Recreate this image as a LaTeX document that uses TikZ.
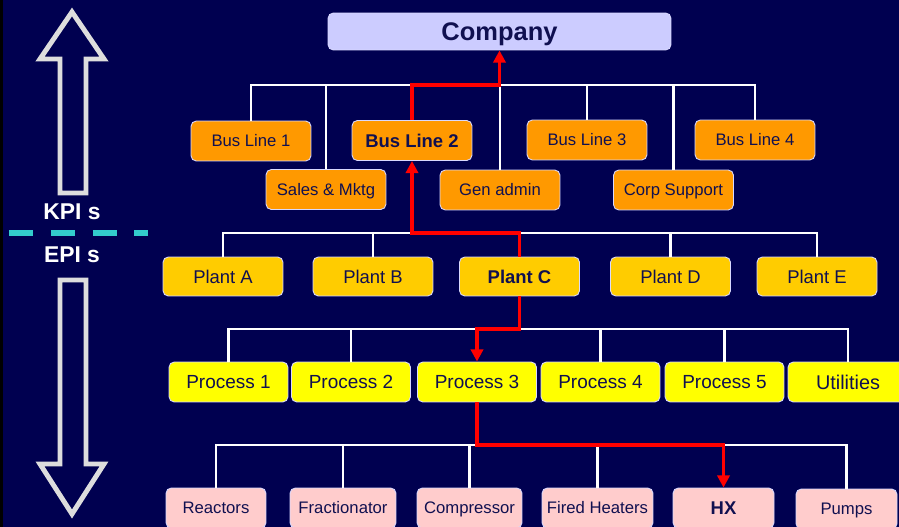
\documentclass[tikz,border=0pt]{standalone}
\usepackage{fontspec}
\setmainfont{Liberation Sans}
\usetikzlibrary{arrows.meta}

\definecolor{bgnavy}{RGB}{0,0,80}
\definecolor{inknavy}{RGB}{16,16,80}
\definecolor{cofill}{RGB}{204,204,255}
\definecolor{busfill}{RGB}{255,153,0}
\definecolor{plantfill}{RGB}{255,204,0}
\definecolor{procfill}{RGB}{255,255,0}
\definecolor{eqfill}{RGB}{255,204,204}
\definecolor{kpicyan}{RGB}{51,204,204}
\definecolor{bigarrow}{RGB}{221,221,221}

\begin{document}
\begin{tikzpicture}[x=0.02cm,y=-0.02cm]

\tikzstyle{box} = [draw=white!85!blue, line width=0.5pt, rounded corners=3pt, inner sep=0pt, text=inknavy, text depth=0pt, anchor=center]
\tikzstyle{cobox} = [box, fill=cofill, minimum width=6.86cm, minimum height=0.74cm, text height=10.4pt, font=\fontsize{14.5}{16}\selectfont\bfseries]
\tikzstyle{busbox} = [box, fill=busfill, minimum width=2.4cm, minimum height=0.8cm, text height=6.8pt, font=\fontsize{9.5}{11}\selectfont]
\tikzstyle{plantbox} = [box, fill=plantfill, minimum width=2.4cm, minimum height=0.78cm, text height=7.5pt, font=\fontsize{10.5}{12}\selectfont]
\tikzstyle{procbox} = [box, fill=procfill, minimum width=2.38cm, minimum height=0.8cm, text height=7.7pt, font=\fontsize{10.8}{12}\selectfont]
\tikzstyle{eqbox} = [box, fill=eqfill, minimum height=0.8cm, text height=6.8pt, font=\fontsize{9.5}{11}\selectfont]
\tikzstyle{link} = [draw=white, line width=1.4pt]
\tikzstyle{route} = [draw=red, line width=2.2pt, -{Triangle[length=7pt,width=7pt]}]
\tikzstyle{kpilabel} = [text=white, font=\fontsize{13}{15}\selectfont\bfseries, anchor=center]

\useasboundingbox (0,0) rectangle (899,527);
\fill[bgnavy] (0,0) rectangle (899,527);
\fill[black] (0,0) rectangle (3,527);

% KPI / EPI side
\draw[bigarrow, line width=2.8pt] (60,193) -- (60,59) -- (40,59) -- (72,12) -- (104,59) -- (86,59) -- (86,193) -- cycle;
\draw[bigarrow, line width=2.8pt] (60,280) -- (60,464) -- (40,464) -- (72,514) -- (104,464) -- (86,464) -- (86,280) -- cycle;
\node[at={(72,212)}, kpilabel] (kpi) {KPI s};
\node[at={(72,255)}, kpilabel] (epi) {EPI s};
\draw[kpicyan, line width=3.4pt, dash pattern=on 13.6pt off 10.2pt] (9,233) -- (148,233);

% boxes
\node[at={(499.5,31.5)}, cobox] (company) {Company};

\node[at={(251,141)}, busbox] (bl1) {Bus Line 1};
\node[at={(412,140.5)}, busbox, text height=7.5pt, font=\fontsize{10.5}{12}\selectfont\bfseries] (bl2) {Bus Line 2};
\node[at={(587,140)}, busbox] (bl3) {Bus Line 3};
\node[at={(755,140)}, busbox] (bl4) {Bus Line 4};
\node[at={(326,189.5)}, busbox] (sales) {Sales \& Mktg};
\node[at={(500,190)}, busbox] (gen) {Gen admin};
\node[at={(673.5,190)}, busbox] (corp) {Corp Support};

\node[at={(223,276.5)}, plantbox] (plantA) {Plant A};
\node[at={(373,276.5)}, plantbox] (plantB) {Plant B};
\node[at={(519.5,276.5)}, plantbox, font=\fontsize{10.5}{12}\selectfont\bfseries] (plantC) {Plant C};
\node[at={(670.5,276.5)}, plantbox] (plantD) {Plant D};
\node[at={(817,276.5)}, plantbox] (plantE) {Plant E};

\node[at={(228.5,382)}, procbox] (proc1) {Process 1};
\node[at={(351,382)}, procbox] (proc2) {Process 2};
\node[at={(477,382)}, procbox] (proc3) {Process 3};
\node[at={(600.5,382)}, procbox] (proc4) {Process 4};
\node[at={(724.5,382)}, procbox] (proc5) {Process 5};
\node[at={(848,382)}, procbox, minimum width=2.4cm, text height=8.1pt, font=\fontsize{11.3}{13}\selectfont] (util) {Utilities};

\node[at={(216,508)}, eqbox, minimum width=2cm] (reactors) {Reactors};
\node[at={(343,508)}, eqbox, minimum width=2.12cm] (fract) {Fractionator};
\node[at={(469.5,508)}, eqbox, minimum width=2.1cm] (compr) {Compressor};
\node[at={(597.5,508)}, eqbox, minimum width=2.22cm] (fired) {Fired Heaters};
\node[at={(723.5,508)}, eqbox, minimum width=2.02cm, text height=7.5pt, font=\fontsize{10.5}{12}\selectfont\bfseries] (hx) {HX};
\node[at={(846.5,509)}, eqbox, minimum width=2.02cm] (pumps) {Pumps};

% bars
\coordinate (barA) at (0,85);
\coordinate (barB) at (0,233);
\coordinate (barC) at (0,329);
\coordinate (barD) at (0,445);

\draw[link] (bl1.north) |- (barA -| bl4.north) -- (bl4.north);
\foreach \n in {sales,bl2,gen,bl3,corp}
  \draw[link] (\n.north) -- (\n.north |- barA);

\draw[link] (plantA.north) |- (barB -| plantE.north) -- (plantE.north);
\foreach \n in {plantB,plantD}
  \draw[link] (\n.north) -- (\n.north |- barB);

\draw[link] (proc1.north) |- (barC -| util.north) -- (util.north);
\foreach \n in {proc2,proc4,proc5}
  \draw[link] (\n.north) -- (\n.north |- barC);

\draw[link] (reactors.north) |- (barD -| pumps.north) -- (pumps.north);
\foreach \n in {fract,compr,fired}
  \draw[link] (\n.north) -- (\n.north |- barD);

% red route
\draw[route] (bl2.north) |- (barA -| company.south) -- (company.south);
\draw[route] (plantC.north) |- (barB -| bl2.south) -- (bl2.south);
\draw[route] (plantC.south) |- (barC -| proc3.north) -- (proc3.north);
\draw[route] (proc3.south) |- (barD -| hx.north) -- (hx.north);

\end{tikzpicture}
\end{document}
